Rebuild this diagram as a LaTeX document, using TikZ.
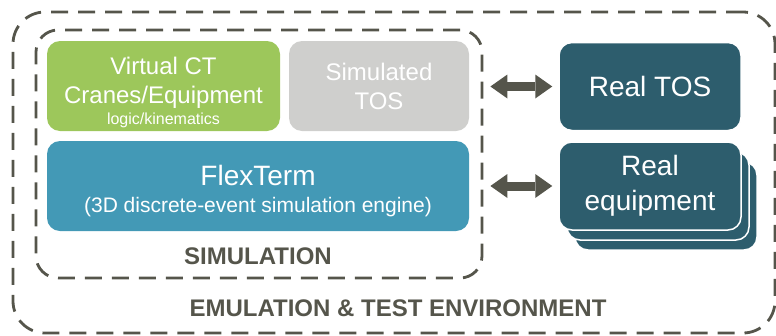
\documentclass[tikz,border=0pt]{standalone}
\usepackage{fontspec}
\setmainfont{Liberation Sans}
\usetikzlibrary{arrows.meta}
\definecolor{leaf}{HTML}{9DC75B}
\definecolor{fog}{HTML}{CFCFCD}
\definecolor{sea}{HTML}{4399B6}
\definecolor{deep}{HTML}{2D5D6D}
\definecolor{slate}{HTML}{55554B}
\tikzset{
  >={Triangle[length=17pt,width=24pt,line width=0pt]},
  box/.style={rectangle,rounded corners=13pt,text=white,align=center,inner sep=0pt},
  realbox/.style={box,fill=deep,draw=white,line width=1.5pt,minimum width=182pt,minimum height=88pt},
  zone/.style={rectangle,draw=slate,line width=2.8pt,dash pattern=on 17pt off 10pt},
  link/.style={<->,draw=slate,line width=9pt},
  caption/.style={text=slate,font=\fontsize{24}{29}\selectfont\bfseries},
}
\tikzstyle{every node}=[font=\fontsize{24}{29}\selectfont]

\begin{document}
\begin{tikzpicture}[x=1pt,y=-1pt]
  \useasboundingbox (0,0) rectangle (776,335);
  \node[zone,rounded corners=32pt,minimum width=762pt,minimum height=321pt] (env) at (394,172.5) {};
  \node[zone,rounded corners=22pt,minimum width=446pt,minimum height=248pt] (sim) at (259,154) {};
  \node[box,fill=leaf,minimum width=233pt,minimum height=90pt] (ct) at (163.5,86)
    {\rule{0pt}{30pt}Virtual CT\\Cranes/Equipment\\[-8pt]{\fontsize{16}{21}\selectfont logic/kinematics}};
  \node[box,fill=fog,minimum width=180pt,minimum height=90pt] (simtos) at (379,86) {Simulated\\TOS};
  \node[box,fill=sea,minimum width=422pt,minimum height=90pt] (flex) at (258,186)
    {{\fontsize{28}{29}\selectfont\rule{0pt}{30pt}FlexTerm}\\[-2pt]{\fontsize{21}{25}\selectfont (3D discrete-event simulation engine)}};
  \node[caption] (simlabel) at (258,256) {SIMULATION};
  \node[caption] (envlabel) at (398,308) {EMULATION \& TEST ENVIRONMENT};
  \node[realbox,font=\fontsize{28}{35}\selectfont] (tos) at (650,86.5) {Real TOS};
  \node[realbox] (equip3) at (666,206) {};
  \node[realbox] (equip2) at (658,196) {};
  \node[realbox,font=\fontsize{28}{35}\selectfont] (equip) at (650,186) {Real\\equipment};
  \draw[link,shorten <=7pt,shorten >=6pt] (sim.east |- tos) -- (tos);
  \draw[link,shorten <=7pt,shorten >=6pt] (sim.east |- equip) -- (equip);
\end{tikzpicture}
\end{document}
